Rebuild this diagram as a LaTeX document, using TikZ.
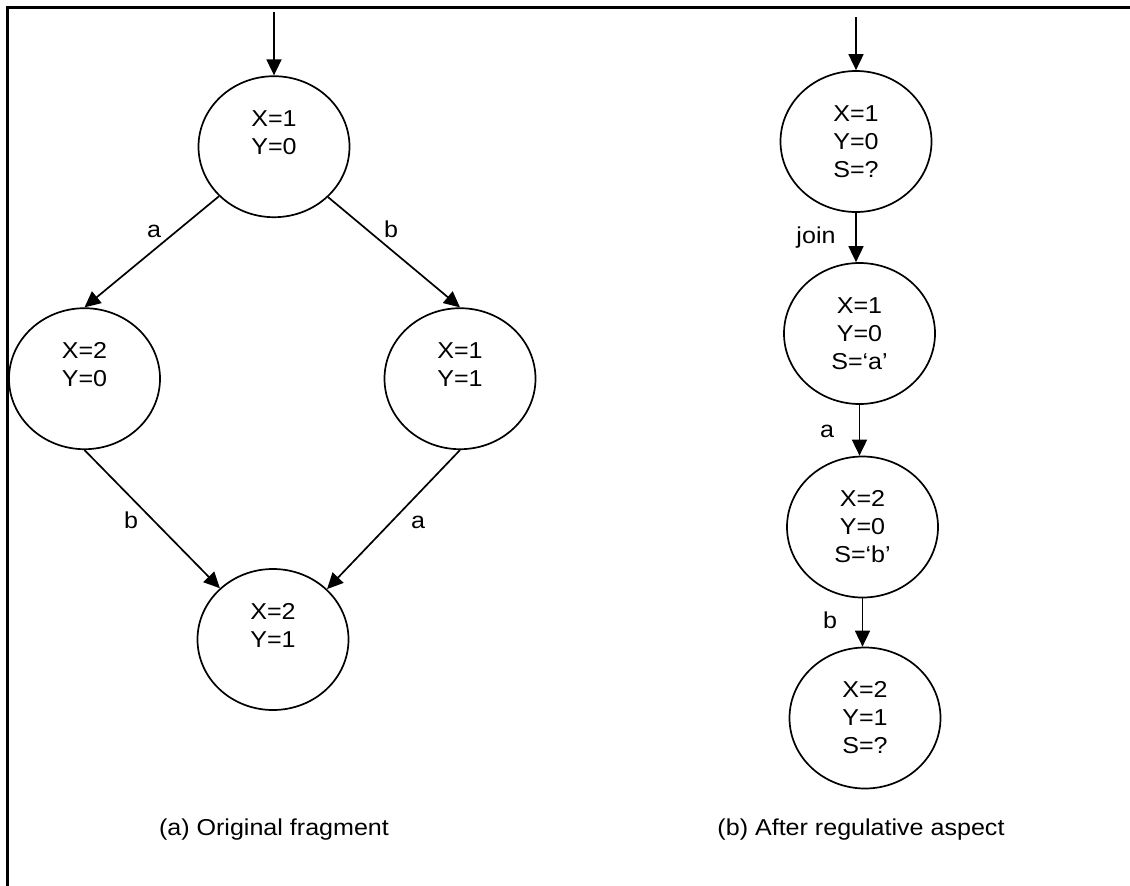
\documentclass[tikz,border=0pt]{standalone}
\usepackage{fontspec}
\setmainfont{Liberation Sans}[FakeStretch=1.09]
\usetikzlibrary{arrows.meta,shapes.geometric}
\begin{document}
\begin{tikzpicture}[x=1pt,y=-1pt,
  st/.style={draw, ellipse, line width=1.7pt, minimum width=151pt, minimum height=141pt,
             inner sep=0pt, align=center, font=\fontsize{23}{28}\selectfont},
  arr/.style={line width=1.7pt, -{Triangle[length=16pt,width=15pt]}},
  lbl/.style={anchor=base, inner sep=0pt, font=\fontsize{23}{28}\selectfont},
  frame/.style={line width=2.2pt}]
\useasboundingbox (0,0) rectangle (1130,886);
% frame
\draw[frame] (7.5,886) -- (7.5,7.5) -- (1130,7.5);

% (a) original fragment
\node[st] (t1) at (274,146.7) {X=1\\Y=0\\\mbox{}};
\node[st] (l)  at (84.5,378.7) {X=2\\Y=0\\\mbox{}};
\node[st] (r)  at (460,378.7) {X=1\\Y=1\\\mbox{}};
\node[st] (b)  at (273,639.5) {X=2\\Y=1\\\mbox{}};
\coordinate (ina) at (274,12);

\draw[arr] (ina) -- (t1.north);
\draw[arr] (t1.222) -- (l.north) node[lbl] at (154,237) {a};
\draw[arr] (t1.-43) -- (r.north) node[lbl] at (391,237) {b};
\draw[arr] (l.south) -- (b.136) node[lbl] at (131,528) {b};
\draw[arr] (r.south) -- (b.43) node[lbl] at (418,528) {a};

% (b) after regulative aspect
\node[st] (r1) at (856,141.5) {X=1\\Y=0\\S=?};
\node[st] (r2) at (859.5,333.5) {X=1\\Y=0\\S=‘a’};
\node[st] (r3) at (862.5,527) {X=2\\Y=0\\S=‘b’};
\node[st] (r4) at (865,718) {X=2\\Y=1\\S=?};
\coordinate (inb) at (856,17);

\draw[arr] (inb) -- (r1.north);
\draw[arr] (r1.south) -- (r1.south |- r2.north) node[lbl] at (816,243) {join};
\draw[arr] (r2.south) -- (r2.south |- r3.north) node[lbl] at (827,437) {a};
\draw[arr] (r3.south) -- (r3.south |- r4.north) node[lbl] at (830,628) {b};

% captions
\node[lbl] (capa) at (274,835) {(a) Original fragment};
\node[lbl] (capb) at (861,835) {(b) After regulative aspect};
\end{tikzpicture}
\end{document}
